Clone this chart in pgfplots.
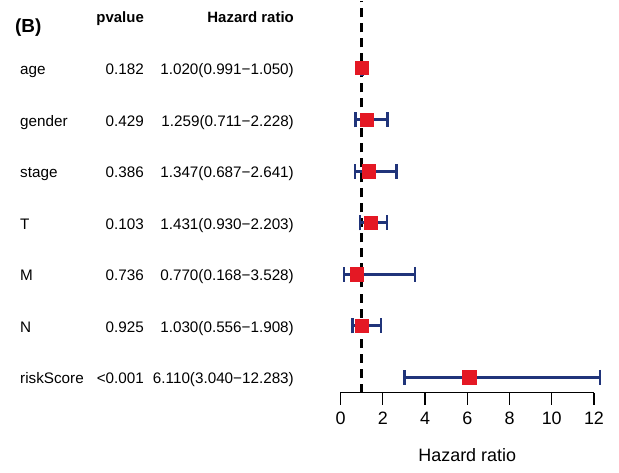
\documentclass[border=0pt]{standalone}
\usepackage{pgfplots}
\usepackage{pgfplotstable}
\pgfplotsset{compat=1.18}
\usepackage{fontspec}
\setmainfont{Liberation Sans}
\definecolor{hrred}{RGB}{228,24,36}
\definecolor{cinavy}{RGB}{32,52,122}

\pgfplotstableread{
pos hr    lo    hi
7   1.020 0.991 1.050
6   1.259 0.711 2.228
5   1.347 0.687 2.641
4   1.431 0.930 2.203
3   0.770 0.168 3.528
2   1.030 0.556 1.908
1   6.110 3.040 12.283
}\hrdata

\newcommand{\rowfont}{\fontsize{15.3}{18}\selectfont}
\newcommand{\hdrfont}{\fontsize{15}{18}\selectfont\bfseries}

\begin{document}
\begin{tikzpicture}
\begin{axis}[
    scale only axis,
    width=253.5bp, height=391bp,
    xmin=0, xmax=12, ymin=0.709, ymax=8.294,
    axis x line=bottom, axis y line=none,
    axis line style={line width=1.3bp, -},
    xtick={0,2,...,12}, ytick=\empty,
    tick style={line width=1.3bp, black},
    major tick length=12bp, tick align=outside,
    ticklabel style={font=\fontsize{18}{18}\selectfont},
    xticklabel style={yshift=-4bp},
    xlabel={Hazard ratio},
    xlabel style={font=\fontsize{18}{18}\selectfont, yshift=-17bp},
    /pgf/number format/assume math mode=true,
    clip=false,
  ]
  \coordinate (ll) at (rel axis cs:0,0);

  % reference line at HR = 1
  \addplot[black, line width=3bp, dash pattern=on 9bp off 6bp, forget plot]
    coordinates {(1,0.709) (1,8.294)};

  % confidence intervals
  \addplot[draw=none, mark=none, forget plot,
    error bars/.cd, x dir=both, x explicit,
    error bar style={draw=cinavy, line width=3bp},
    error mark options={rotate=90, draw=cinavy, line width=2.6bp, mark size=7.5bp}]
    table[x=hr, y=pos,
      x error plus expr=\thisrow{hi}-\thisrow{hr},
      x error minus expr=\thisrow{hr}-\thisrow{lo}] {\hrdata};

  % point estimates
  \addplot[only marks, mark=square*, mark size=6.7bp,
    mark options={fill=hrred, draw=hrred, line width=0pt}]
    table[x=hr, y=pos] {\hrdata};

  % header
  \node[anchor=base west, inner sep=0, font=\fontsize{19}{20}\selectfont\bfseries]
    at (axis cs:-15.41,7.698) {(B)};
  \node[anchor=base east, inner sep=0, font=\hdrfont] at (axis cs:-9.30,7.896) {pvalue};
  \node[anchor=base east, inner sep=0, font=\hdrfont] at (axis cs:-2.20,7.896) {Hazard ratio};

  % rows
  \foreach \lab/\p/\h [count=\i] in {
      age/0.182/1.020(0.991\textminus1.050),
      gender/0.429/1.259(0.711\textminus2.228),
      stage/0.386/1.347(0.687\textminus2.641),
      T/0.103/1.431(0.930\textminus2.203),
      M/0.736/0.770(0.168\textminus3.528),
      N/0.925/1.030(0.556\textminus1.908),
      riskScore/<0.001/6.110(3.040\textminus12.283)} {
    \pgfmathsetmacro{\yy}{8-\i}
    \edef\temp{\noexpand\node[anchor=base west, inner sep=0, font=\noexpand\rowfont, yshift=-6.3bp]
      at (axis cs:-15.17,\yy) {\lab};
      \noexpand\node[anchor=base east, inner sep=0, font=\noexpand\rowfont, yshift=-6.3bp]
      at (axis cs:-9.30,\yy) {\p};
      \noexpand\node[anchor=base east, inner sep=0, font=\noexpand\rowfont, yshift=-6.3bp]
      at (axis cs:-2.20,\yy) {\unexpanded\expandafter{\h}};}
    \temp
  }
\end{axis}
\path[use as bounding box] ([shift={(-340.5bp,-80bp)}]ll) rectangle ([shift={(278.5bp,391bp)}]ll);
\end{tikzpicture}
\end{document}
